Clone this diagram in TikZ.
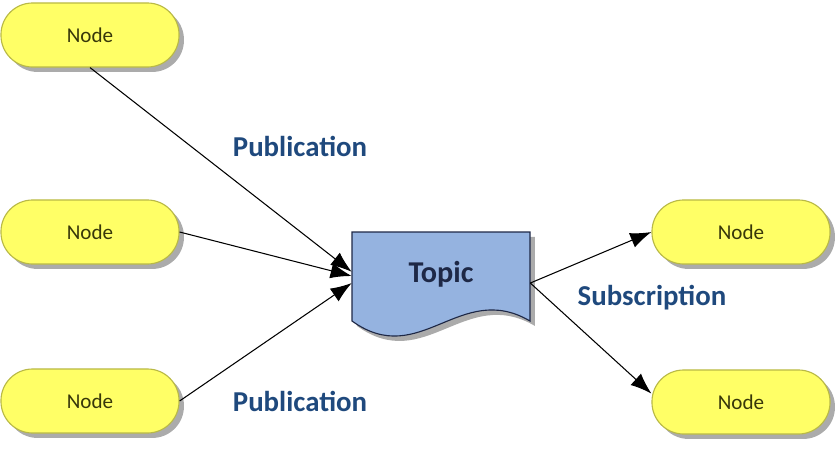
\documentclass[tikz,border=0pt]{standalone}
\usepackage{fontspec}
\setmainfont{Carlito}
\usetikzlibrary{arrows.meta, shadows}

\definecolor{nodefill}{RGB}{255,255,102}
\definecolor{nodeline}{RGB}{185,185,70}
\definecolor{nodetext}{RGB}{55,55,10}
\definecolor{topicfill}{RGB}{149,179,224}
\definecolor{topicline}{RGB}{30,40,70}
\definecolor{labelblue}{RGB}{31,73,125}

\begin{document}
\begin{tikzpicture}[
    x=0.025cm, y=-0.025cm,  % pixel grid of the reference
    % Styles
    peer/.style={draw=nodeline, fill=nodefill, line width=0.8pt, rounded corners=0.79cm, minimum width=4.45cm, minimum height=1.6cm, font=\fontsize{15}{18}\selectfont, text=nodetext, drop shadow={shadow xshift=3.5pt, shadow yshift=-3.5pt, fill=black!55, opacity=0.6}},
    topicshape/.style={draw=topicline, fill=topicfill, line width=0.8pt, drop shadow={shadow xshift=3.5pt, shadow yshift=-3.5pt, fill=black!55, opacity=0.6}},
    arrow/.style={-{Latex[length=15pt, width=11pt]}, black, line width=0.75pt},
    tag/.style={font=\fontsize{20.5}{24}\selectfont\bfseries, text=labelblue},
]
\useasboundingbox (0,0) rectangle (837,454);

% Publishers (left)
\node[peer] (pub1) at (90,35) {Node};
\node[peer] (pub2) at (90,232) {Node};
\node[peer] (pub3) at (90,401) {Node};

% Subscribers (right)
\node[peer] (sub1) at (741,232) {Node};
\node[peer] (sub2) at (741,402) {Node};

% Topic (document shape)
\filldraw[topicshape] (352,232) -- (530,232) -- (530,321)
    .. controls (460,280) and (420,370) .. (352,321) -- cycle;
\node[font=\fontsize{21.5}{25}\selectfont\bfseries, text=topicline, minimum width=4.45cm, minimum height=2.2cm] (topic) at (441,276) {\raisebox{6pt}{Topic}};

% Connectors
\draw[arrow] (pub1.south) -- ([yshift=3pt]topic.west);
\draw[arrow] (pub2.east) -- (topic.west);
\draw[arrow] (pub3.east) -- ([yshift=-5pt]topic.west);
\draw[arrow] ([yshift=-5pt]topic.east) -- (sub1.west);
\draw[arrow] ([yshift=-5pt]topic.east) -- ([yshift=6pt]sub2.west);

% Labels
\node[tag] (publabel1) at (300,146) {Publication};
\node[tag] (publabel2) at (300,401) {Publication};
\node[tag] (sublabel) at (652,298) {Subscription};

\end{tikzpicture}
\end{document}
